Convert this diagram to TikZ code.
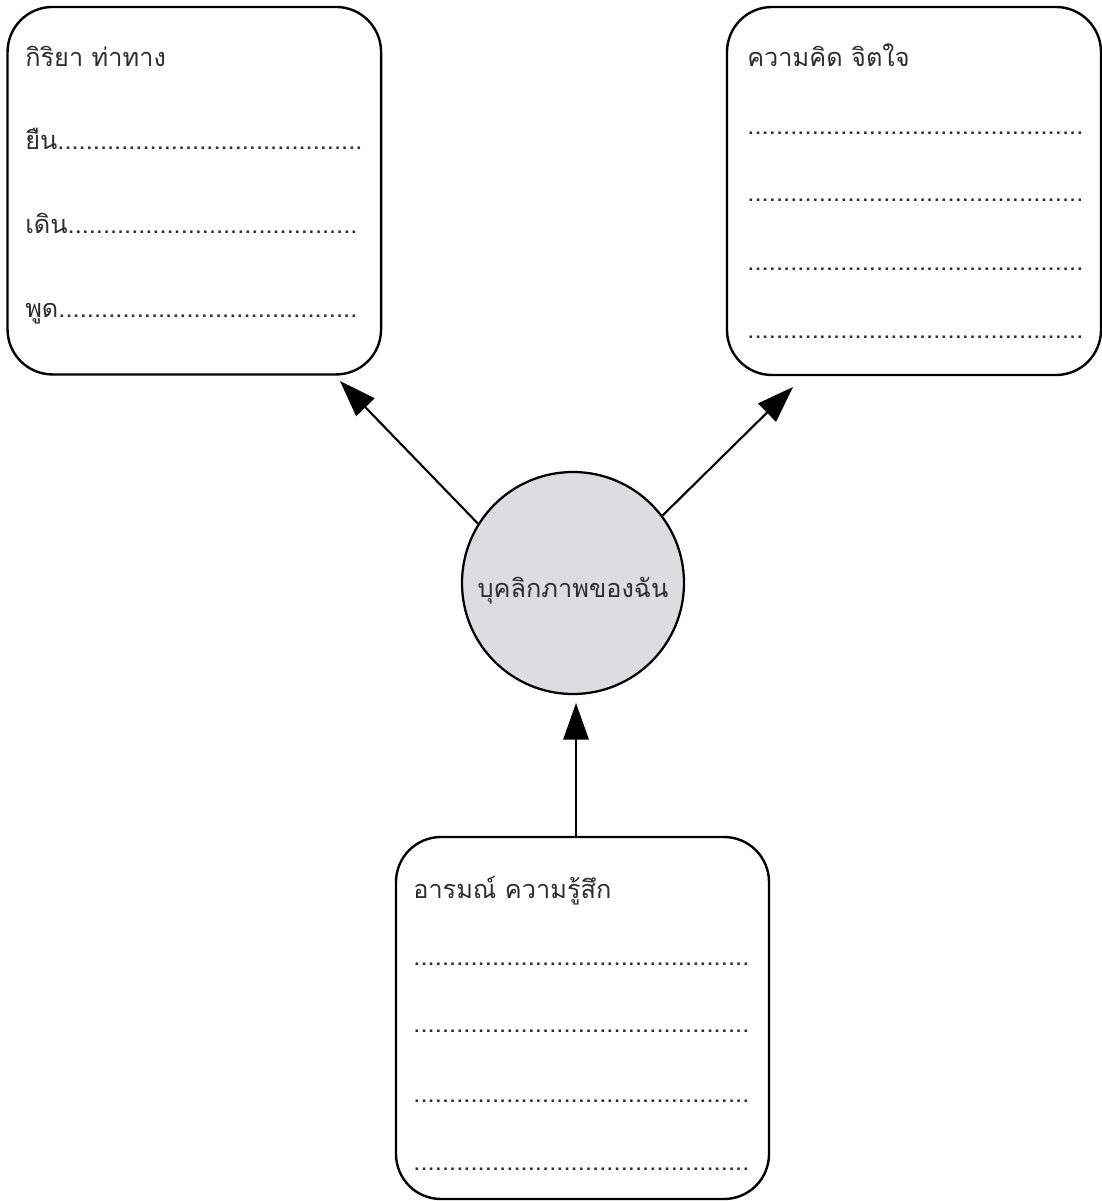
\documentclass[tikz,border=0pt]{standalone}
\usepackage{fontspec}
\newfontfamily\thaifont[Script=Thai]{Loma}
\usetikzlibrary{arrows.meta}
\newlength\mypx
\setlength\mypx{0.025cm}
\definecolor{circfill}{RGB}{220,221,223}
\definecolor{txtcol}{RGB}{45,45,45}
\newcommand\fillrow[2]{\hbox to #1\mypx{#2\xleaders\hbox{.}\hfill}}
\tikzset{
  card/.style={draw=black, line width=1.7pt, rounded corners=45\mypx, inner sep=0pt},
  txt/.style={anchor=base west, inner sep=0pt, text=txtcol, font=\thaifont\fontsize{18}{21}\selectfont},
  hub/.style={circle, draw=black, line width=1.6pt, fill=circfill, minimum size=222\mypx, inner sep=0pt, text=txtcol, font=\thaifont\fontsize{18}{21}\selectfont},
  arr/.style={line width=1.5pt, -{Triangle[length=26pt,width=18pt]}}
}
\begin{document}
\begin{tikzpicture}[x=0.025cm,y=-0.025cm]
\useasboundingbox (0,0) rectangle (1102,1201);
% boxes
\node[card, minimum width=373.5\mypx, minimum height=367.5\mypx] (b1) at (194.3,190.7) {};
\node[card, minimum width=374\mypx, minimum height=368\mypx] (b2) at (914,191) {};
\node[card, minimum width=373\mypx, minimum height=362\mypx] (b3) at (582.5,1018) {};
% circle
\node[hub] (c) at (573,583) {\raisebox{-10pt}[0pt][0pt]{บุคลิกภาพของฉัน}};
% box 1 texts
\node[txt] (b1t) at (25,67) {กิริยา ท่าทาง};
\node[txt] (b1r1) at (25,150) {\fillrow{337}{ยืน}};
\node[txt] (b1r2) at (25,233) {\fillrow{332}{เดิน}};
\node[txt] (b1r3) at (25,317) {\fillrow{332}{พูด}};
% box 2 texts
\node[txt] (b2t) at (747,67) {ความคิด จิตใจ};
\node[txt] (b2r1) at (747,135) {\fillrow{336}{}};
\node[txt] (b2r2) at (747,202) {\fillrow{336}{}};
\node[txt] (b2r3) at (747,270) {\fillrow{336}{}};
\node[txt] (b2r4) at (747,338) {\fillrow{336}{}};
% box 3 texts
\node[txt] (b3t) at (413,898) {อารมณ์ ความรู้สึก};
\node[txt] (b3r1) at (413,965) {\fillrow{336}{}};
\node[txt] (b3r2) at (413,1032) {\fillrow{336}{}};
\node[txt] (b3r3) at (413,1102) {\fillrow{336}{}};
\node[txt] (b3r4) at (413,1170) {\fillrow{336}{}};
% arrows
\coordinate (t1) at (340,381);
\coordinate (t2) at (793,387);
\coordinate (t3) at (576,703);
\draw[arr] (c.148) -- (t1);
\draw[arr] (c.37) -- (t2);
\draw[arr] (b3.north -| t3) -- (t3);
\end{tikzpicture}
\end{document}
